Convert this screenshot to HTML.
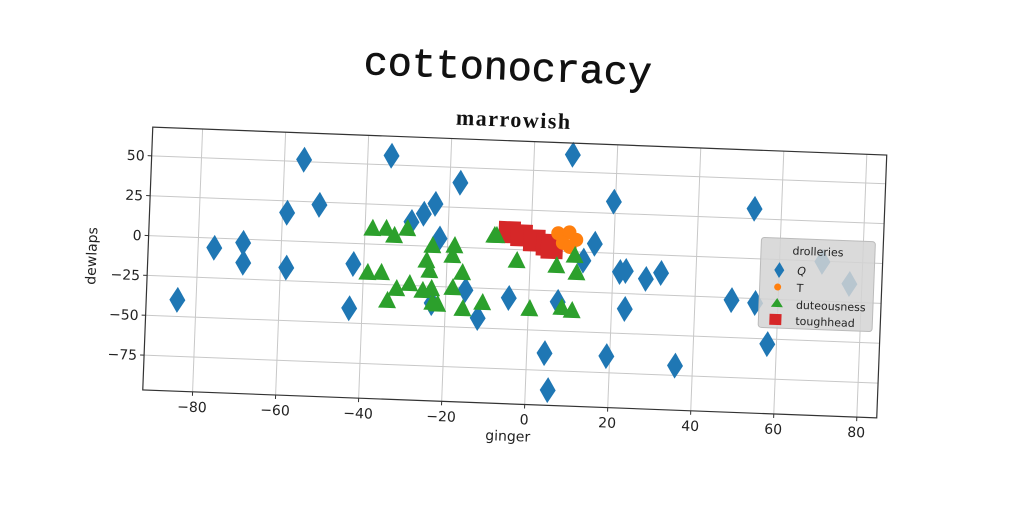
<!DOCTYPE html>
<html><head><meta charset="utf-8"><style>
html,body{margin:0;padding:0;background:#fff;}
svg{display:block;}
text{font-family:"DejaVu Sans","Liberation Sans",sans-serif;}
</style></head><body>
<svg id="chart" width="1024" height="512" viewBox="0 0 1024 512" xmlns="http://www.w3.org/2000/svg">
<rect width="1024" height="512" fill="#fff"/>
<g id="rot" transform="rotate(2.18 514.75 272.5)">
<text x="500" y="80" text-anchor="middle" font-size="40" style="font-family:'Liberation Mono',monospace" fill="#111" stroke="#111" stroke-width="0.6">cottonocracy</text>
<text x="508" y="127" text-anchor="middle" font-size="22" font-weight="bold" letter-spacing="1.5" style="font-family:'Liberation Serif',serif" fill="#111">marrowish</text>
<g id="grid"></g>
<g id="marks"></g>
<rect x="147.5" y="141" width="734.5" height="263" fill="none" stroke="#333" stroke-width="1.2"/>
<g id="ticks"></g>
<text x="514" y="441" text-anchor="middle" font-size="14" fill="#222">ginger</text>
<text transform="translate(96 272) rotate(-90)" text-anchor="middle" font-size="14" fill="#222">dewlaps</text>
<g>
<rect x="760" y="228" width="114" height="90" rx="3" fill="#d4d4d4" fill-opacity="0.85" stroke="#bbb"/>
<text x="817" y="244" text-anchor="middle" font-size="11" fill="#222">drolleries</text>
<path d="M779,252 L784,260 L779,268 L774,260 Z" fill="#1f77b4"/>
<text x="797" y="264" font-size="11" font-style="italic" fill="#222">Q</text>
<circle cx="778" cy="277" r="3.5" fill="#ff7f0e"/>
<text x="797" y="281" font-size="11" fill="#222">T</text>
<path d="M778,288 L784,297 L772,297 Z" fill="#2ca02c"/>
<text x="797" y="298" font-size="11" fill="#222">duteousness</text>
<rect x="771" y="304" width="12" height="11" fill="#d62728"/>
<text x="797" y="314" font-size="11" fill="#222">toughhead</text>
</g>
</g>
</svg>
<script>
const xTicks=[-80,-60,-40,-20,0,20,40,60,80];
const yTicks=[50,25,0,-25,-50,-75];
const qX=[-84.5,-76.1,-69.2,-69,-58.9,-58.6,-55.3,-51.2,-42.5,-43.1,-34.3,-28.9,-26,-23.3,-17.5,-22,-23.3,-12.1,-15.3,-4.8,7,4.3,5.4,9.3,15.4,19.6,19.2,21.7,23.1,23.2,28,31.6,35.8,48.8,54.5,53.5,57.8,70.3,77,12.8];
const qY=[-39.6,-6.1,-2.3,-14.8,17.6,-16.8,51.2,23.3,-12.9,-40.7,55.8,14.8,20.2,26.7,40.5,5.1,-35.6,-43.8,-26.6,-30.5,-31.8,-64.2,-87.3,60.7,5.5,32.3,-64.6,-11.6,-10.8,-34.6,-15.3,-11.2,-68.9,-26.5,-27.8,31.2,-53.2,-0.4,-13.6,-5.3];
const tX=[6.5,9.2,10.9,7.7,9.4];
const tY=[11.2,12,7.5,5.3,2.9];
const dX=[-38.2,-34.9,-32.9,-29.8,-23.6,-18.3,-18.7,-24.9,-24.1,-16.2,-39,-35.7,-31.9,-28.8,-34,-25.6,-23.5,-23.1,-21.9,-18.4,-15.8,-11.1,-8.3,-3.2,-8.8,6.4,10.7,11.3,0.3,8,10.5];
const dY=[10.2,10.5,6.3,11,0.9,1.4,-4.9,-8.6,-14.8,-15.3,-17.5,-17.2,-26.9,-23.5,-34.6,-27.5,-26,-34.8,-35.7,-25,-37.9,-33.6,8.7,-6.5,8.7,-8.7,-1.9,-12.6,-36.3,-34.9,-36.5];
const hX=[-5.2,-2.3,0.8,3.9,5.1];
const hY=[10.7,9,6.1,3.7,1.9];
const NS='http://www.w3.org/2000/svg';
const X0=147.5,X1=882,Y0=141,Y1=404,xmin=-92,xmax=84.8,ymin=-96.8,ymax=68;
function sx(v){return X0+(v-xmin)/(xmax-xmin)*(X1-X0);}
function sy(v){return Y1-(v-ymin)/(ymax-ymin)*(Y1-Y0);}
function mk(tag,attrs,parent){const e=document.createElementNS(NS,tag);for(const k in attrs)e.setAttribute(k,attrs[k]);parent.appendChild(e);return e;}
const grid=document.getElementById('grid'),ticks=document.getElementById('ticks'),marks=document.getElementById('marks');
xTicks.forEach(v=>{const x=sx(v);
const g=mk('line',{x1:x,x2:x,y1:Y0,y2:Y1,stroke:'#c8c8c8','stroke-width':1},grid);


const t=mk('line',{x1:x,x2:x,y1:Y1,y2:Y1+4,stroke:'#333'},ticks);


const l=mk('text',{x:x,y:Y1+20,'text-anchor':'middle','font-size':14,fill:'#222'},ticks);
l.textContent=(v<0?'\u2212'+(-v):v);

});
yTicks.forEach(v=>{const y=sy(v);
const g=mk('line',{x1:X0,x2:X1,y1:y,y2:y,stroke:'#c8c8c8','stroke-width':1},grid);


const t=mk('line',{x1:X0-4,x2:X0,y1:y,y2:y,stroke:'#333'},ticks);


const l=mk('text',{x:X0-7,y:y+5,'text-anchor':'end','font-size':14,fill:'#222'},ticks);
l.textContent=(v<0?'\u2212'+(-v):v);

});
qX.forEach((v,i)=>{const x=sx(v),y=sy(qY[i]);
const p=mk('path',{d:`M${x},${y-13} L${x+8},${y} L${x},${y+13} L${x-8},${y} Z`,fill:'#1f77b4'},marks);

});
hX.forEach((v,i)=>{const x=sx(v),y=sy(hY[i]);
const p=mk('rect',{x:x-11,y:y-11,width:22,height:22,fill:'#d62728'},marks);

});
tX.forEach((v,i)=>{const x=sx(v),y=sy(tY[i]);
const p=mk('circle',{cx:x,cy:y,r:7,fill:'#ff7f0e'},marks);

});
dX.forEach((v,i)=>{const x=sx(v),y=sy(dY[i]);
const p=mk('path',{d:`M${x},${y-9} L${x+9},${y+8} L${x-9},${y+8} Z`,fill:'#2ca02c'},marks);

});
</script>
</body></html>
